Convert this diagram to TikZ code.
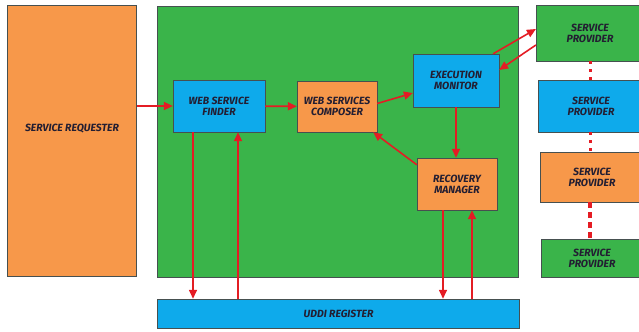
\documentclass[tikz,border=0pt]{standalone}
\usepackage{fontspec}
\setsansfont{Fira Sans}
\usepackage{tikz}
\usetikzlibrary{arrows.meta}
\usetikzlibrary{shapes}
\usetikzlibrary{positioning}
\definecolor{boxorange}{RGB}{247,152,74}
\definecolor{boxgreen}{RGB}{58,180,74}
\definecolor{boxblue}{RGB}{14,170,235}
\definecolor{boxline}{RGB}{70,80,80}
\definecolor{arrowred}{RGB}{228,28,36}
\definecolor{labeltext}{RGB}{35,30,50}

\begin{document}
\begin{tikzpicture}[x=1bp, y=-1bp]
            \tikzset{every node/.style={rectangle, draw=boxline, line width=0.6pt, inner sep=0pt,
                        align=center, text=labeltext,
                        font=\sffamily\bfseries\itshape\fontsize{10.5}{11}\selectfont},
                    orange/.style={fill=boxorange},
                    green/.style={fill=boxgreen},
                    blue/.style={fill=boxblue},
                    >={Triangle[length=9bp, width=8bp]},
                    every edge/.style={draw=arrowred, line width=1.6pt}}
            \useasboundingbox (0,0) rectangle (639,331);
            \node[orange, minimum width=130, minimum height=272, text depth=26bp] (sr) at (72,141) {SERVICE REQUESTER};
            \node[green, minimum width=362, minimum height=272] (core) at (338,142) {};
            \node[blue, minimum width=92, minimum height=52] (wsf) at (219,106) {WEB SERVICE\\FINDER};
            \node[orange, minimum width=80, minimum height=51] (wsc) at (337,106.5) {WEB SERVICES\\COMPOSER};
            \node[blue, minimum width=86, minimum height=53] (em) at (456,80.5) {EXECUTION\\MONITOR};
            \node[orange, minimum width=80, minimum height=52] (rm) at (457,184) {RECOVERY\\MANAGER};
            \node[blue, minimum width=363, minimum height=29] (uddi) at (338.5,313.5) {UDDI REGISTER};
            \node[green, minimum width=108, minimum height=56] (sp1) at (590,33) {SERVICE\\PROVIDER};
            \node[blue, minimum width=106, minimum height=52] (sp2) at (591,106) {SERVICE\\PROVIDER};
            \node[orange, minimum width=104, minimum height=50] (sp3) at (592,177) {SERVICE\\PROVIDER};
            \node[green, minimum width=102, minimum height=38] (sp4) at (592,258) {SERVICE\\PROVIDER};
            \path [->] (sr.east |- wsf.west) edge (wsf.west);
            \path [->] (wsf) edge (wsc);
            \path [->] ([yshift=3bp]wsc.east) edge ([yshift=-12.5bp]em.west);
            \path [->] (em.south) edge (em.south |- rm.north);
            \path [->] ([yshift=-7bp]rm.north west) edge ([xshift=-4bp]wsc.south east);
            \path [->] ([xshift=-6bp]em.north east) edge ([yshift=4bp]sp1.west);
            \path [->] ([yshift=-12bp]sp1.west) edge ([yshift=10.5bp]em.east);
            \path [->] ([xshift=-26bp]wsf.south) edge ([xshift=-26bp]wsf.south |- uddi.north);
            \path [->] ([xshift=19bp]wsf.south |- uddi.north) edge ([xshift=19bp]wsf.south);
            \path [->] ([xshift=-14bp]rm.south) edge ([xshift=-14bp]rm.south |- uddi.north);
            \path [->] ([xshift=15bp]rm.south |- uddi.north) edge ([xshift=15bp]rm.south);
            % dotted links between the providers
            \draw[arrowred, line width=3bp, dash pattern=on 3bp off 5bp] (sp1.south -| 590,0) -- (sp2.north -| 590,0);
            \draw[arrowred, line width=3bp, dash pattern=on 3bp off 5bp] (sp2.south -| 590,0) -- (sp3.north -| 590,0);
            \draw[arrowred, line width=4bp, dash pattern=on 6bp off 4bp] (sp3.south -| 590,0) -- (sp4.north -| 590,0);
\end{tikzpicture}
\end{document}
